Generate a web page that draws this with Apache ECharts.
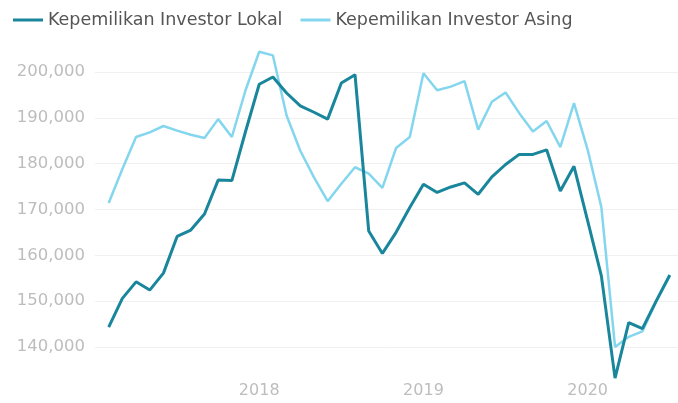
<!DOCTYPE html>
<html>
<head>
<meta charset="utf-8">
<script src="https://cdn.jsdelivr.net/npm/echarts@6/dist/echarts.min.js"></script>
<style>html,body{margin:0;padding:0;background:#fff}#c{width:678px;height:403px}</style>
</head>
<body>
<div id="c"></div>
<script>
var months = ['2017-02','2017-03','2017-04','2017-05','2017-06','2017-07','2017-08','2017-09','2017-10','2017-11','2017-12',
  '2018-01','2018-02','2018-03','2018-04','2018-05','2018-06','2018-07','2018-08','2018-09','2018-10','2018-11','2018-12',
  '2019-01','2019-02','2019-03','2019-04','2019-05','2019-06','2019-07','2019-08','2019-09','2019-10','2019-11','2019-12',
  '2020-01','2020-02','2020-03','2020-04','2020-05','2020-06','2020-07'];
var lokal = [144300,150600,154200,152400,156100,164100,165500,169000,176400,176300,187000,
  197300,198900,195400,192600,191200,189700,197600,199400,165300,160400,165000,170400,
  175500,173700,174900,175800,173300,177100,179800,182000,182000,183000,174000,179400,
  167500,155500,133200,145300,144000,150000,155700];
var asing = [171400,178800,185800,186800,188200,187200,186300,185600,189700,185800,196000,
  204400,203600,190500,182800,177000,171800,175600,179200,177800,174700,183400,185800,
  199700,196000,196800,198000,187400,193500,195500,191000,187000,189300,183600,193200,
  183000,170500,140000,142200,143400,149800,155500];
var yearTicks = ['2018','2019','2020'];

function monthIndex(s){ var p = s.split('-'); return (parseInt(p[0],10) - 2017) * 12 + parseInt(p[1],10) - 1; }
function pairs(vals){ return months.map(function(m,i){ return [monthIndex(m), vals[i]]; }); }

var chart = echarts.init(document.getElementById('c'), null, {renderer:'canvas'});
var FONT = 'DejaVu Sans';
chart.setOption({
  animation: false,
  legend: {
    top: 6, left: 8, itemWidth: 30, itemHeight: 3, itemGap: 18, icon: 'rect',
    textStyle: { fontFamily: FONT, fontSize: 17.5, color: '#555' },
    data: ['Kepemilikan Investor Lokal', 'Kepemilikan Investor Asing']
  },
  grid: { left: 95, right: 0, top: 49, bottom: 24, containLabel: false },
  xAxis: {
    type: 'value', min: 0, max: 42.6, interval: 12,
    axisLine: { show: false }, axisTick: { show: false }, splitLine: { show: false },
    axisLabel: {
      margin: 4, fontFamily: FONT, fontSize: 16, color: '#bdbdbd',
      showMinLabel: false, showMaxLabel: false,
      formatter: function(v){ var y = String(2017 + Math.round(v/12)); return (v % 12 === 0 && yearTicks.indexOf(y) >= 0) ? y : ''; }
    }
  },
  yAxis: {
    type: 'value', min: 133000, max: 205000, splitNumber: 5,
    axisLine: { show: false }, axisTick: { show: false },
    splitLine: { show: true, showMinLine: false, showMaxLine: false, lineStyle: { color: '#f0f0f0', width: 1 } },
    axisLabel: {
      margin: 10, fontFamily: FONT, fontSize: 16.5, color: '#bdbdbd',
      showMinLabel: false, showMaxLabel: false,
      formatter: function(v){ return v % 10000 === 0 ? v.toLocaleString('en-US') : ''; }
    }
  },
  series: [
    { name: 'Kepemilikan Investor Lokal', type: 'line', data: pairs(lokal), showSymbol: false, z: 3,
      itemStyle: { color: '#1a869c' }, lineStyle: { color: '#1a869c', width: 3 } },
    { name: 'Kepemilikan Investor Asing', type: 'line', data: pairs(asing), showSymbol: false, z: 2,
      itemStyle: { color: '#84d6ee' }, lineStyle: { color: '#84d6ee', width: 2.5 } }
  ]
});
</script>
</body>
</html>
